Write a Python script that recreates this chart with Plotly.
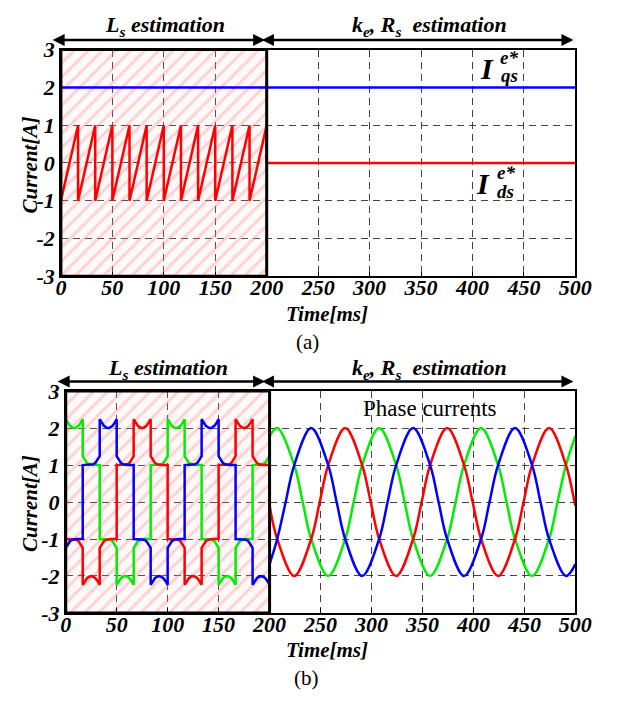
import plotly.graph_objects as go

W, H = 628, 707

# ---- axes ----
T_START, T_SWITCH, T_END = 0, 200, 500
I_MIN, I_MAX = -3, 3
X_TICKS = [0, 50, 100, 150, 200, 250, 300, 350, 400, 450, 500]
Y_TICKS = [-3, -2, -1, 0, 1, 2, 3]
Y_TICK_LABELS = ["-3", "-2", "-1", "0", "1", "2", "3"]

# ---- (a) current references ----
IQS_REF = 2.0             # q-axis reference over the whole run
IDS_LOW, IDS_HIGH = -1.0, 1.0   # d-axis sawtooth limits during L_s estimation
IDS_AFTER = 0.0           # d-axis reference after 200 ms
N_SLOTS = 12              # sawtooth periods in 0-200 ms

# ---- (b) phase currents during L_s estimation, shape inside one slot ----
SLOT_FRAC = [0, 0.125, 0.25, 0.375, 0.5, 0.625, 0.75, 0.875, 1]
PEAK_SHAPE = [2.24, 2.14, 2.06, 2.02, 2.00, 2.02, 2.06, 2.14, 2.24]
FALL_SHAPE = [1.24, 1.14, 1.06, 1.02, 1.00, 1.00, 1.00, 1.00, 1.00]
RISE_SHAPE = FALL_SHAPE[::-1]

GREEN_STEPS = ["+peak", "+fall", "-rise", "-peak", "-fall", "+rise"] * 2
BLUE_STEPS = ["-fall", "+rise", "+peak", "+fall", "-rise", "-peak"] * 2
RED_STEPS = ["-rise", "-peak", "-fall", "+rise", "+peak", "+fall"] * 2

# ---- (b) sinusoidal phase currents after 200 ms (peaks and grid crossings) ----
GREEN_T = [200, 207.5, 224.2, 232.5, 240.8, 257.5, 274.2, 282.5, 290.8, 307.5,
           324.2, 332.5, 340.8, 357.5, 374.2, 382.5, 390.8, 407.5, 424.2, 432.5,
           440.8, 457.5, 474.2, 482.5, 490.8, 500]
GREEN_I = [1.78, 2, 1, 0, -1, -2, -1, 0, 1, 2,
           1, 0, -1, -2, -1, 0, 1, 2, 1, 0,
           -1, -2, -1, 0, 1, 1.78]

BLUE_T = [200, 207.5, 215.8, 224.2, 240.8, 257.5, 265.8, 274.2, 290.8, 307.5,
          315.8, 324.2, 340.8, 357.5, 365.8, 374.2, 390.8, 407.5, 415.8, 424.2,
          440.8, 457.5, 465.8, 474.2, 490.8, 500]
BLUE_I = [-1.68, -1, 0, 1, 2, 1, 0, -1, -2, -1,
          0, 1, 2, 1, 0, -1, -2, -1, 0, 1,
          2, 1, 0, -1, -2, -1.68]

RED_T = [200, 207.5, 224.2, 240.8, 249.2, 257.5, 274.2, 290.8, 299.2, 307.5,
         324.2, 340.8, 349.2, 357.5, 374.2, 390.8, 399.2, 407.5, 424.2, 440.8,
         449.2, 457.5, 474.2, 490.8, 499.2, 500]
RED_I = [-0.1, -1, -2, -1, 0, 1, 2, 1, 0, -1,
         -2, -1, 0, 1, 2, 1, 0, -1, -2, -1,
         0, 1, 2, 1, 0, -0.1]

RED = "#ff0000"
BLUE = "#0000ff"
GREEN = "#00ee00"
FONT = "Liberation Serif, Times New Roman, serif"

slot = (T_SWITCH - T_START) / N_SLOTS
shapes_by_name = {"peak": PEAK_SHAPE, "fall": FALL_SHAPE, "rise": RISE_SHAPE}


def step_currents(steps, end_t, end_i):
    xs, ys = [], []
    for k, step in enumerate(steps):
        sign = 1 if step[0] == "+" else -1
        for f, v in zip(SLOT_FRAC, shapes_by_name[step[1:]]):
            xs.append(T_START + (k + f) * slot)
            ys.append(sign * v)
    # jump onto the sinusoid at the switching instant
    xs.append(end_t)
    ys.append(end_i)
    return xs, ys


# d-axis sawtooth
ids_t, ids_v = [], []
for k in range(N_SLOTS):
    ids_t += [T_START + k * slot, T_START + (k + 1) * slot]
    ids_v += [IDS_LOW, IDS_HIGH]
ids_t += [T_SWITCH, T_END]
ids_v += [IDS_AFTER, IDS_AFTER]

fig = go.Figure()


def hatch(xa, ya):
    fig.add_trace(go.Bar(
        x=[(T_START + T_SWITCH) / 2], y=[I_MAX - I_MIN], base=[I_MIN],
        width=[T_SWITCH - T_START], xaxis=xa, yaxis=ya,
        marker=dict(color="rgba(255,200,200,0.10)", line=dict(width=0),
                    pattern=dict(shape="/", fgcolor="#ff7070", fgopacity=0.3,
                                 size=10, solidity=0.28)),
        hoverinfo="skip", showlegend=False))


# (a)
hatch("x", "y")
fig.add_trace(go.Scatter(x=[T_START, T_END], y=[IQS_REF, IQS_REF], mode="lines",
                         line=dict(color=BLUE, width=2.5), xaxis="x", yaxis="y",
                         showlegend=False))
fig.add_trace(go.Scatter(x=ids_t, y=ids_v, mode="lines",
                         line=dict(color=RED, width=2.5), xaxis="x", yaxis="y",
                         showlegend=False))

# (b)
hatch("x2", "y2")
for steps, tt, ii, col in [(GREEN_STEPS, GREEN_T, GREEN_I, GREEN),
                           (RED_STEPS, RED_T, RED_I, RED),
                           (BLUE_STEPS, BLUE_T, BLUE_I, BLUE)]:
    sx, sy = step_currents(steps, tt[0], ii[0])
    fig.add_trace(go.Scatter(x=sx, y=sy, mode="lines", line=dict(color=col, width=2.5),
                             xaxis="x2", yaxis="y2", showlegend=False))
for tt, ii, col in [(GREEN_T, GREEN_I, GREEN), (RED_T, RED_I, RED), (BLUE_T, BLUE_I, BLUE)]:
    fig.add_trace(go.Scatter(x=tt, y=ii, mode="lines",
                             line=dict(color=col, width=2.5, shape="spline", smoothing=1),
                             xaxis="x2", yaxis="y2", showlegend=False))


def px(x):
    return x / W


def py(y):
    return 1 - y / H


tickfont = dict(family=FONT, size=22, color="black", weight="bold", style="italic")
xcommon = dict(range=[T_START, T_END], tickvals=X_TICKS, showgrid=True,
               gridcolor="#444", gridwidth=1, griddash="7px,5px", zeroline=False,
               showline=True, linecolor="black", linewidth=1.5, mirror=True,
               ticks="inside", ticklen=5, tickcolor="black", tickfont=tickfont,
               ticklabelstandoff=-9)
ycommon = dict(range=[I_MIN, I_MAX], tickvals=Y_TICKS, ticktext=Y_TICK_LABELS,
               showgrid=True, gridcolor="#444", gridwidth=1, griddash="7px,5px",
               zeroline=False, showline=True, linecolor="black", linewidth=1.5,
               mirror=True, ticks="", tickfont=tickfont)

fig.update_layout(
    width=W, height=H, margin=dict(l=0, r=0, t=0, b=0),
    paper_bgcolor="white", plot_bgcolor="white", barmode="overlay",
    xaxis=dict(domain=[px(57), px(591)], anchor="y", **xcommon),
    yaxis=dict(domain=[py(274), py(39)], anchor="x", **ycommon),
    xaxis2=dict(domain=[px(62), px(591)], anchor="y2", **xcommon),
    yaxis2=dict(domain=[py(623), py(393)], anchor="x2", **ycommon),
)

# thick frame around the L_s estimation interval
for xr, yr in [("x", "y"), ("x2", "y2")]:
    fig.add_shape(type="rect", xref=xr, yref=yr, x0=T_START, x1=T_SWITCH,
                  y0=I_MIN, y1=I_MAX, line=dict(color="black", width=3),
                  fillcolor="rgba(0,0,0,0)", layer="above")

bi = dict(family=FONT, color="black", weight="bold", style="italic")
reg = dict(family=FONT, color="black")


def label(text, x, y, size, font, angle=0):
    fig.add_annotation(text=text, x=px(x), y=py(y), xref="paper", yref="paper",
                       showarrow=False, xanchor="center", yanchor="middle",
                       textangle=angle, font=dict(size=size, **font))


def span_arrow(x0, x1, y):
    fig.add_annotation(text="", x=px(x1), y=py(y), ax=-(x1 - x0), ay=0,
                       xref="paper", yref="paper", axref="pixel", ayref="pixel",
                       showarrow=True, arrowhead=2, startarrowhead=2,
                       arrowside="end+start", arrowwidth=2.4, arrowsize=1.0,
                       startarrowsize=1.0, arrowcolor="black")


for top, y_arrow, xl in [(14, 29, 57), (370, 383, 62)]:
    label("L<sub>s</sub> estimation", (xl + 268) / 2 + 3, top, 22, bi)
    label("k<sub>e</sub>, R<sub>s</sub> &nbsp;estimation", 440, top, 22, bi)
    span_arrow(xl - 2, 269, y_arrow)
    span_arrow(276, 589, y_arrow)

# (a) reference labels
label("I", 499, 59, 30, bi)
label("e*", 522, 47, 19, bi)
label("qs", 523, 66, 19, bi)
label("I", 495, 178, 30, bi)
label("e*", 519, 166, 19, bi)
label("ds", 519, 186, 19, bi)

# (b) label
label("Phase currents", 440, 411, 23, reg)

# axis titles and captions
label("Current[A]", 25, 159, 21, bi, angle=-90)
label("Current[A]", 25, 510, 21, bi, angle=-90)
label("Time[ms]", 333, 313, 21, bi)
label("Time[ms]", 333, 661, 21, bi)
label("(a)", 313, 342, 21, reg)
label("(b)", 312, 690, 21, reg)

fig.write_html("out.html")
